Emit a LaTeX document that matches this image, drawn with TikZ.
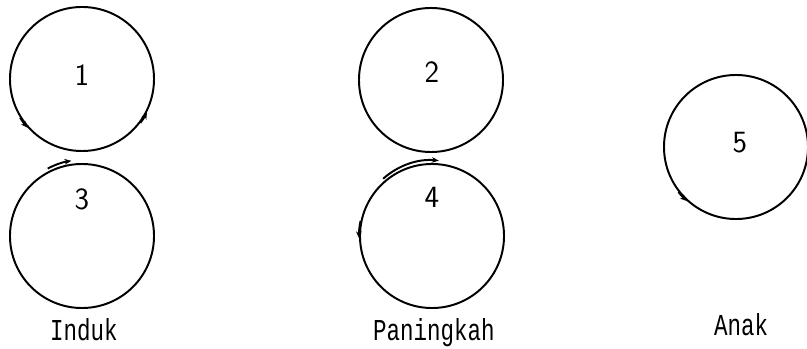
\documentclass[tikz,border=0pt]{standalone}
\usepackage{fontspec}
\setmonofont{Liberation Mono}
\usetikzlibrary{arrows.meta}
\begin{document}
\begin{tikzpicture}[x=0.025cm,y=0.025cm,
	gear/.style={draw,circle,minimum size=3.6cm,line width=1.4pt,inner sep=0pt},
	digit/.style={font=\sffamily\fontsize{22}{24}\selectfont},
	caption/.style={font=\ttfamily\fontsize{16}{18}\selectfont,anchor=base},
	spin/.style={line width=1.4pt,-{Stealth[length=5pt,width=4pt]}}]
	\useasboundingbox (0,0) rectangle (807,348);
	\foreach \n/\x/\y in {1/82/269, 3/82/112, 2/431/268, 4/432/112, 5/736/201}
		\node[gear] (c\n) at (\x,\y) {};
	\node[digit] (n1) at (82,273) {1};
	\node[digit] (n2) at (432,276) {2};
	\node[digit] (n3) at (82,149) {3};
	\node[digit] (n4) at (432,151) {4};
	\node[digit] (n5) at (740,205) {5};
	\node[caption] (induk) at (84,8) {\scalebox{1}[1.35]{Induk}};
	\node[caption] (paningkah) at (434,8) {\scalebox{1}[1.35]{Paningkah}};
	\node[caption] (anak) at (741,12) {\scalebox{1}[1.35]{Anak}};
	% arah putaran
	\draw[spin] (c1.212) arc[start angle=212,end angle=222,radius=72];
	\draw[spin] (c1.323) arc[start angle=323,end angle=333,radius=72];
	\draw[spin] ([shift={(0,3)}]c3.118) arc[start angle=118,end angle=98,radius=72];
	\draw[spin] ([shift={(0,3)}]c4.132) arc[start angle=132,end angle=84,radius=72];
	\draw[spin] (c4.168) arc[start angle=168,end angle=182,radius=72];
	\draw[spin] (c5.218) arc[start angle=218,end angle=228,radius=72];
\end{tikzpicture}
\end{document}
